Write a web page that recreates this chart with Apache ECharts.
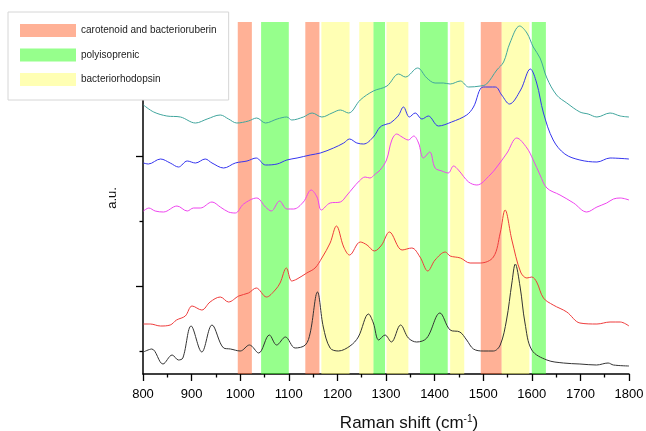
<!DOCTYPE html>
<html>
<head>
<meta charset="utf-8">
<script src="https://cdn.jsdelivr.net/npm/echarts@6/dist/echarts.min.js"></script>
<style>
  html, body { margin: 0; padding: 0; background: #fff; }
  #chart { width: 646px; height: 431px; }
</style>
</head>
<body>
<div id="chart"></div>
<script>
// Raman spectra, a.u. (offset traces, bottom to top)
var blackX = [801, 818, 841, 860, 873, 882, 899, 921, 942, 966, 980, 1000, 1019, 1038, 1060, 1075, 1093, 1113, 1134, 1144, 1159, 1171, 1185, 1202, 1226, 1243, 1264, 1274, 1285, 1298, 1311, 1330, 1346, 1363, 1384, 1411, 1432, 1452, 1466, 1480, 1500, 1521, 1535, 1548, 1559, 1566, 1576, 1586, 1600, 1631, 1665, 1699, 1733, 1757, 1768, 1800];
var blackY = [22, 25, 10, 19, 14, 16, 48, 22, 49, 26, 25, 23, 29, 21, 39, 29, 37, 26, 29, 41, 82, 47, 26, 23, 28, 37, 60, 51, 34, 39, 32, 49, 36, 32, 36, 61, 44, 42, 34, 25, 23, 23, 29, 54, 91, 110, 87, 51, 24, 14, 11, 10, 9, 11, 9, 8];

var redX = [801, 815, 836, 856, 869, 887, 901, 921, 938, 959, 976, 997, 1017, 1033, 1054, 1072, 1082, 1095, 1106, 1117, 1137, 1154, 1168, 1185, 1198, 1213, 1225, 1247, 1261, 1276, 1291, 1307, 1333, 1353, 1370, 1386, 1401, 1422, 1432, 1453, 1473, 1494, 1521, 1535, 1545, 1559, 1577, 1590, 1600, 1610, 1624, 1644, 1672, 1699, 1734, 1761, 1782, 1800];
var redY = [50, 50, 48, 49, 54, 58, 68, 64, 72, 77, 72, 78, 81, 86, 77, 84, 91, 106, 93, 95, 101, 106, 116, 131, 148, 127, 119, 132, 129, 123, 129, 142, 124, 126, 117, 103, 114, 122, 118, 116, 111, 111, 117, 141, 164, 134, 102, 96, 97, 92, 76, 69, 62, 51, 50, 52, 52, 48];

var magentaX = [801, 812, 825, 842, 870, 891, 904, 918, 942, 959, 976, 990, 1007, 1034, 1052, 1064, 1081, 1096, 1110, 1130, 1146, 1158, 1167, 1185, 1206, 1220, 1232, 1245, 1257, 1267, 1278, 1288, 1301, 1312, 1322, 1333, 1346, 1357, 1367, 1377, 1390, 1401, 1415, 1428, 1439, 1449, 1470, 1487, 1514, 1528, 1549, 1569, 1590, 1603, 1617, 1631, 1658, 1686, 1713, 1734, 1754, 1768, 1782, 1800];
var magentaY = [163, 166, 163, 162, 168, 163, 166, 166, 172, 167, 162, 161, 170, 176, 167, 163, 173, 165, 165, 172, 184, 177, 164, 171, 172, 179, 186, 193, 197, 196, 200, 204, 214, 234, 240, 237, 234, 238, 231, 216, 222, 206, 203, 201, 208, 204, 192, 189, 199, 207, 221, 236, 226, 214, 199, 186, 179, 171, 162, 167, 171, 175, 176, 174];

var blueX = [801, 811, 836, 856, 873, 891, 908, 928, 942, 966, 990, 1014, 1033, 1052, 1076, 1096, 1117, 1144, 1165, 1192, 1213, 1225, 1240, 1254, 1274, 1288, 1302, 1309, 1325, 1336, 1348, 1360, 1374, 1387, 1408, 1435, 1466, 1480, 1500, 1525, 1538, 1554, 1577, 1597, 1610, 1624, 1644, 1668, 1699, 1734, 1761, 1800];
var blueY = [211, 210, 215, 211, 207, 213, 211, 215, 211, 206, 211, 213, 216, 209, 210, 214, 216, 219, 221, 226, 231, 235, 231, 230, 237, 247, 250, 251, 258, 267, 257, 261, 255, 258, 248, 252, 259, 267, 287, 287, 279, 270, 284, 305, 291, 261, 234, 220, 214, 212, 216, 215];

var tealX = [801, 822, 849, 877, 908, 932, 959, 976, 993, 1017, 1034, 1052, 1076, 1096, 1106, 1130, 1148, 1168, 1189, 1206, 1223, 1247, 1274, 1302, 1326, 1340, 1365, 1384, 1401, 1418, 1432, 1453, 1470, 1494, 1507, 1528, 1542, 1555, 1575, 1590, 1603, 1617, 1631, 1651, 1672, 1699, 1716, 1734, 1761, 1782, 1800];
var tealY = [269, 262, 258, 257, 251, 255, 259, 255, 251, 253, 256, 251, 255, 257, 254, 257, 261, 257, 261, 264, 261, 274, 283, 288, 300, 297, 306, 296, 291, 291, 290, 293, 287, 288, 290, 304, 312, 331, 348, 341, 327, 316, 296, 279, 271, 262, 260, 257, 261, 258, 257];

// assignment bands, cm-1
var caroteneBands = [[995, 1024], [1134, 1163], [1495, 1538]];
var polyBands = [[1043, 1100], [1274, 1298], [1370, 1427], [1600, 1629]];
var bRBands = [[1167, 1225], [1245, 1274], [1301, 1346], [1432, 1461], [1538, 1595]];

var xTicks = { min: 800, max: 1800, step: 100 };
var yMajorTicks = [88, 218];
var yMinorTicks = [23, 153];

function zip(xs, ys) {
  return xs.map(function (x, i) { return [x, ys[i]]; });
}

var myChart = echarts.init(document.getElementById('chart'));
var font = 'Liberation Sans, Arial, sans-serif';

function trace(name, xs, ys, color) {
  return {
    name: name,
    type: 'line',
    data: zip(xs, ys),
    showSymbol: false,
    smooth: 0.35,
    z: 2,
    lineStyle: { color: color, width: 1 },
    itemStyle: { color: color },
    silent: true
  };
}

function bands(name, list, color) {
  return {
    name: name,
    type: 'line',
    data: [],
    z: 5,
    silent: true,
    markArea: {
      silent: true,
      itemStyle: { color: color },
      data: list.map(function (b) { return [{ xAxis: b[0] }, { xAxis: b[1] }]; })
    }
  };
}

var option = {
  animation: false,
  textStyle: { fontFamily: font },
  grid: { left: 143, right: 17, top: 22, bottom: 57, outerBoundsMode: 'none', containLabel: false },
  legend: {
    orient: 'vertical',
    left: 8,
    top: 12,
    z: 10,
    padding: [12, 12, 14, 12],
    backgroundColor: '#fff',
    borderColor: '#d6d6d6',
    borderWidth: 1,
    itemWidth: 56,
    itemHeight: 13,
    itemGap: 11.5,
    icon: 'rect',
    selectedMode: false,
    textStyle: { fontSize: 10, color: '#222', fontFamily: font },
    data: [
      { name: 'carotenoid and bacterioruberin', itemStyle: { color: '#ffb196' } },
      { name: 'polyisoprenic', itemStyle: { color: '#96ff8c' } },
      { name: 'bacteriorhodopsin', itemStyle: { color: '#ffffb4' } }
    ]
  },
  xAxis: {
    type: 'value',
    min: xTicks.min,
    max: xTicks.max,
    interval: xTicks.step,
    name: 'Raman shift (cm{sup|-1})',
    nameLocation: 'middle',
    nameGap: 40,
    nameTextStyle: {
      fontSize: 17,
      color: '#111',
      padding: [0, 0, 0, 46],
      rich: {
        sup: { fontSize: 10, verticalAlign: 'top', color: '#111', padding: [0, 0, 8, 0] }
      }
    },
    axisLine: { lineStyle: { color: '#000', width: 1.5 } },
    axisTick: { inside: false, length: 7, lineStyle: { color: '#000', width: 1.3 } },
    minorTick: { show: true, splitNumber: 2, length: 3.5, lineStyle: { color: '#000', width: 1.3 } },
    axisLabel: {
      fontSize: 13,
      color: '#000',
      margin: 14,
      formatter: function (v) { return String(v); }
    },
    splitLine: { show: false }
  },
  yAxis: [{
    type: 'value',
    min: 0,
    max: 352,
    name: 'a.u.',
    nameLocation: 'middle',
    nameGap: 24,
    nameTextStyle: { fontSize: 13, color: '#111' },
    axisLine: { show: true, lineStyle: { color: '#000', width: 1.5 } },
    axisTick: { show: true, length: 7, customValues: yMajorTicks, lineStyle: { color: '#000', width: 1.3 } },
    axisLabel: { show: false },
    splitLine: { show: false }
  }, {
    type: 'value',
    min: 0,
    max: 352,
    position: 'left',
    axisLine: { show: false },
    axisTick: { show: true, length: 3.5, customValues: yMinorTicks, lineStyle: { color: '#000', width: 1.3 } },
    axisLabel: { show: false },
    splitLine: { show: false }
  }],
  series: [
    trace('black', blackX, blackY, '#333333'),
    trace('red', redX, redY, '#ee3b3b'),
    trace('magenta', magentaX, magentaY, '#ee44ee'),
    trace('blue', blueX, blueY, '#3535ee'),
    trace('teal', tealX, tealY, '#40a59d'),
    bands('carotenoid and bacterioruberin', caroteneBands, 'rgba(255,99,45,0.5)'),
    bands('polyisoprenic', polyBands, 'rgba(45,255,25,0.5)'),
    bands('bacteriorhodopsin', bRBands, 'rgba(255,255,105,0.5)')
  ]
};
myChart.setOption(option);
</script>
</body>
</html>
